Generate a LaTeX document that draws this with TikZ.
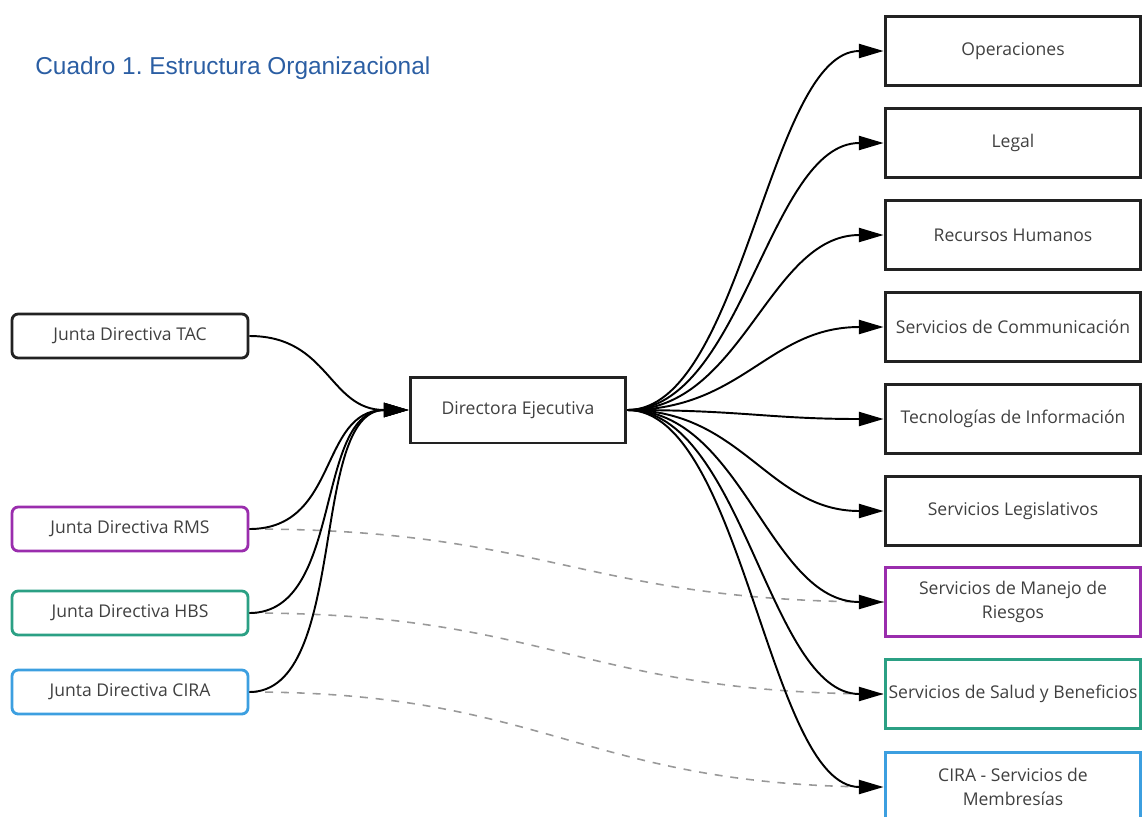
\documentclass[tikz,border=0pt]{standalone}
\usepackage{fontspec}
\setmainfont{Open Sans}
\newfontfamily\titlefont{Liberation Sans}
\usetikzlibrary{arrows.meta}
\definecolor{dark}{HTML}{222222}
\definecolor{txt}{HTML}{404040}
\definecolor{rms}{HTML}{9A2DAD}
\definecolor{hbs}{HTML}{2BA084}
\definecolor{cira}{HTML}{3C9FE0}
\definecolor{titleblue}{HTML}{2B5EA3}
\definecolor{dashgray}{HTML}{999999}
\frenchspacing
\begin{document}
\begin{tikzpicture}[x=0.02cm,y=-0.02cm,
  boxfont/.style={font=\fontsize{10}{13.6}\selectfont, text=txt},
  leftbox/.style={boxfont, draw=#1, rounded corners=3.5pt, line width=1.6pt, minimum width=4.72cm, minimum height=0.88cm, inner sep=0pt},
  rightbox/.style={boxfont, draw=#1, line width=1.7pt, minimum width=5.12cm, minimum height=1.38cm, inner sep=0pt, align=center},
  centerbox/.style={boxfont, draw=dark, line width=1.7pt, minimum width=4.32cm, minimum height=1.32cm, inner sep=0pt},
  conn/.style={line width=1.1pt, draw=black, -{Triangle[length=14pt,width=8pt]}},
  dashconn/.style={draw=dashgray, line width=0.9pt, dash pattern=on 4.5pt off 4.5pt}
]
\useasboundingbox (0,0) rectangle (1143,816);

\node[anchor=west, inner sep=0pt, text=titleblue, font=\titlefont\fontsize{13.9}{16}\selectfont] (title) at (35,68) {Cuadro 1. Estructura Organizacional};

% left boxes
\node[leftbox=dark] (tac) at (130,336) {Junta Directiva TAC};
\node[leftbox=rms] (rms) at (130,529) {Junta Directiva RMS};
\node[leftbox=hbs] (hbs) at (130,613) {Junta Directiva HBS};
\node[leftbox=cira] (jcira) at (130,692) {Junta Directiva CIRA};

% center
\node[centerbox] (dir) at (518,410) {Directora Ejecutiva};

% right boxes
\node[rightbox=dark] (ops) at (1013,51) {Operaciones};
\node[rightbox=dark] (legal) at (1013,143) {Legal};
\node[rightbox=dark] (rh) at (1013,235) {Recursos Humanos};
\node[rightbox=dark] (com) at (1013,327) {Servicios de Communicación};
\node[rightbox=dark] (ti) at (1013,419) {Tecnologías de Información};
\node[rightbox=dark] (leg) at (1013,511) {Servicios Legislativos};
\node[rightbox=rms] (mr) at (1013,602) {Servicios de Manejo de\\Riesgos};
\node[rightbox=hbs] (sb) at (1013,694) {Servicios de Salud y Beneficios};
\node[rightbox=cira] (mem) at (1013,787) {CIRA - Servicios de\\Membresías};

% dashed
\draw[dashconn] (rms.east) .. controls +(300,0) and +(-300,0) .. (mr.west);
\draw[dashconn] (hbs.east) .. controls +(300,0) and +(-300,0) .. (sb.west);
\draw[dashconn] (jcira.east) .. controls +(300,0) and +(-300,0) .. (mem.west);

% left connectors
\draw[conn] (tac.east) .. controls +(80,0) and +(-80,0) .. (dir.west);
\draw[conn] (rms.east) .. controls +(90,0) and +(-90,0) .. (dir.west);
\draw[conn] (hbs.east) .. controls +(95,0) and +(-95,0) .. (dir.west);
\draw[conn] (jcira.east) .. controls +(100,0) and +(-100,0) .. (dir.west);

% right connectors
\foreach \t in {ops,legal,rh,com,ti,leg,mr,sb,mem}{
  \draw[conn] (dir.east) .. controls +(115,0) and +(-115,0) .. (\t.west);
}
\end{tikzpicture}
\end{document}
